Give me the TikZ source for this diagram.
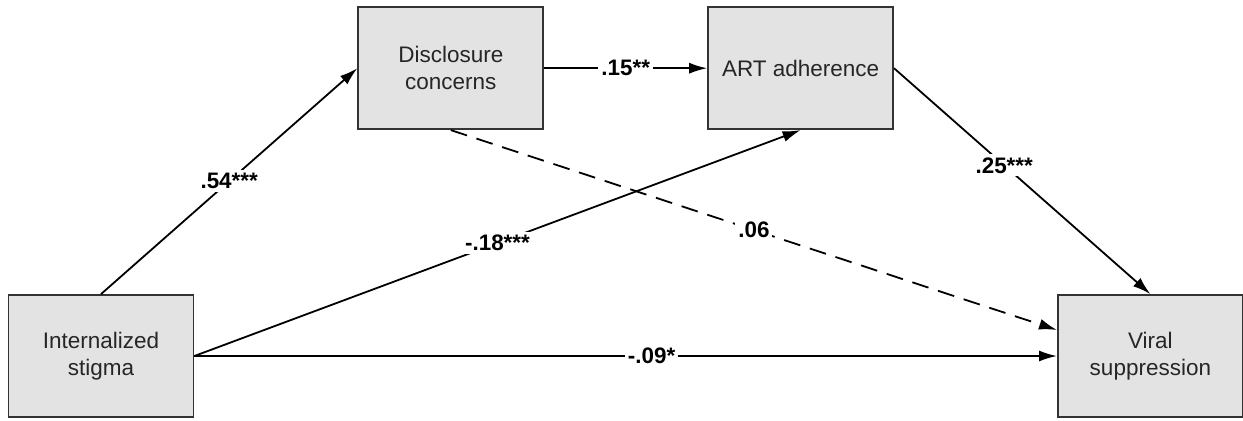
\documentclass[tikz,border=0pt]{standalone}
\usepackage{fontspec}
\setmainfont{Liberation Sans}
\usetikzlibrary{positioning,arrows.meta}

\begin{document}
\begin{tikzpicture}[
    var/.style={draw=black!80, line width=0.9pt, fill=black!11, text=black!85,
      minimum width=92.5pt, minimum height=61pt, align=center,
      font=\fontsize{11.25}{13.5}\selectfont},
    coef/.style={fill=white, inner sep=1.5pt, font=\bfseries\fontsize{11.2}{13}\selectfont},
    link/.style={line width=0.9pt, -{Latex[length=9pt,width=5.5pt]}}
  ]
    \useasboundingbox (0,0) rectangle (621.5pt,210pt);

    \node[var] (stigma) at (50.5pt,32pt) {Internalized\\stigma};
    \node[var, above right=82pt and 81.5pt of stigma] (disclosure) {Disclosure\\concerns};
    \node[var, right=81.5pt of disclosure] (art) {ART adherence};
    \node[var, below right=82pt and 81.5pt of art] (viral) {Viral\\suppression};

    \draw[link] (stigma.north) -- node[coef] {.54***} (disclosure.west);
    \draw[link] (disclosure.east) -- node[coef] {.15**} (art.west);
    \draw[link] (art.east) -- node[coef, pos=0.43] {.25***} (viral.north);
    \draw[link] (stigma.east) -- node[coef] {-.18***} (art.south);
    \draw[link, dash pattern=on 8.5pt off 5pt] (disclosure.south) -- node[coef] {.06} ([yshift=13pt]viral.west);
    \draw[link] (stigma.east) -- node[coef, pos=0.53] {-.09*} (viral.west);
\end{tikzpicture}
\end{document}
